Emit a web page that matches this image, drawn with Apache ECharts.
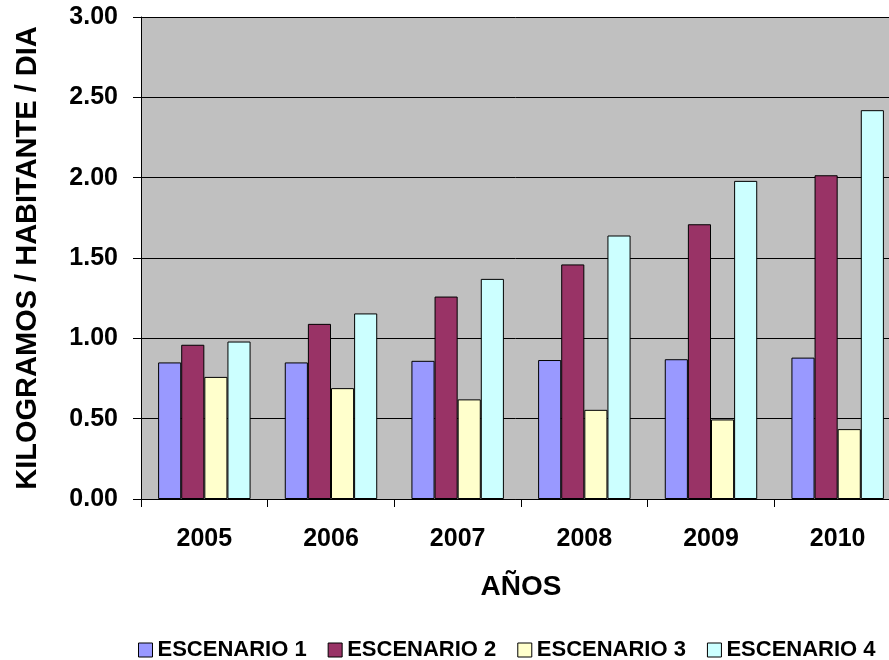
<!DOCTYPE html>
<html>
<head>
<meta charset="utf-8">
<script src="https://cdn.jsdelivr.net/npm/echarts@6/dist/echarts.min.js"></script>
<style>
html,body{margin:0;padding:0;background:#fff;}
#c{width:889px;height:660px;}
</style>
</head>
<body>
<div id="c"></div>
<script>
const years = ['2005','2006','2007','2008','2009','2010'];
const seriesNames = ['ESCENARIO 1','ESCENARIO 2','ESCENARIO 3','ESCENARIO 4'];
const escenario1 = [0.85, 0.85, 0.86, 0.865, 0.87, 0.88];
const escenario2 = [0.96, 1.09, 1.26, 1.46, 1.71, 2.015];
const escenario3 = [0.76, 0.69, 0.62, 0.555, 0.495, 0.435];
const escenario4 = [0.98, 1.155, 1.37, 1.64, 1.98, 2.42];
const colors = ['#9999FF','#993366','#FFFFCC','#CCFFFF'];

const FONT = '"Liberation Sans", Arial, sans-serif';
const chart = echarts.init(document.getElementById('c'), null, {renderer:'canvas'});
const dataSets = [escenario1, escenario2, escenario3, escenario4];
chart.setOption({
  animation: false,
  backgroundColor: '#ffffff',
  textStyle: {fontFamily: FONT},
  grid: {
    left: 141, top: 17, width: 760, bottom: 161,
    outerBoundsMode: 'none',
    containLabel: false,
    show: true, backgroundColor: '#C0C0C0', borderWidth: 0
  },
  legend: {
    data: seriesNames,
    top: 634,
    left: 133,
    itemWidth: 14, itemHeight: 14, itemGap: 21,
    icon: 'rect',
    itemStyle: {borderColor: '#000', borderWidth: 1},
    textStyle: {fontFamily: FONT, fontWeight: 'bold', fontSize: 22, color: '#000'}
  },
  xAxis: {
    type: 'category',
    data: years,
    name: 'AÑOS',
    nameLocation: 'middle',
    nameGap: 74,
    nameTextStyle: {fontFamily: FONT, fontWeight: 'bold', fontSize: 28, color: '#000'},
    axisLine: {show: true, lineStyle: {color: '#000', width: 1}},
    axisTick: {show: true, length: 8, alignWithLabel: false, lineStyle: {color: '#000'}},
    axisLabel: {fontFamily: FONT, fontWeight: 'bold', fontSize: 25, color: '#000', margin: 28},
    splitLine: {show: false}
  },
  yAxis: {
    type: 'value',
    min: 0, max: 3, interval: 0.5,
    name: 'KILOGRAMOS / HABITANTE / DIA',
    nameLocation: 'middle',
    nameGap: 99,
    nameRotate: 90,
    nameTextStyle: {fontFamily: FONT, fontWeight: 'bold', fontSize: 29, color: '#000'},
    axisLine: {show: true, lineStyle: {color: '#000', width: 1}},
    axisTick: {show: true, length: 8, lineStyle: {color: '#000'}},
    axisLabel: {fontFamily: FONT, fontWeight: 'bold', fontSize: 25, color: '#000', margin: 23,
      formatter: v => v.toFixed(2)},
    splitLine: {show: true, lineStyle: {color: '#000', width: 1}}
  },
  series: seriesNames.map((n, i) => ({
    name: n,
    type: 'bar',
    data: dataSets[i],
    barGap: '0%',
    barCategoryGap: '27%',
    itemStyle: {color: colors[i], borderColor: '#000', borderWidth: 1}
  }))
});
</script>
</body>
</html>
